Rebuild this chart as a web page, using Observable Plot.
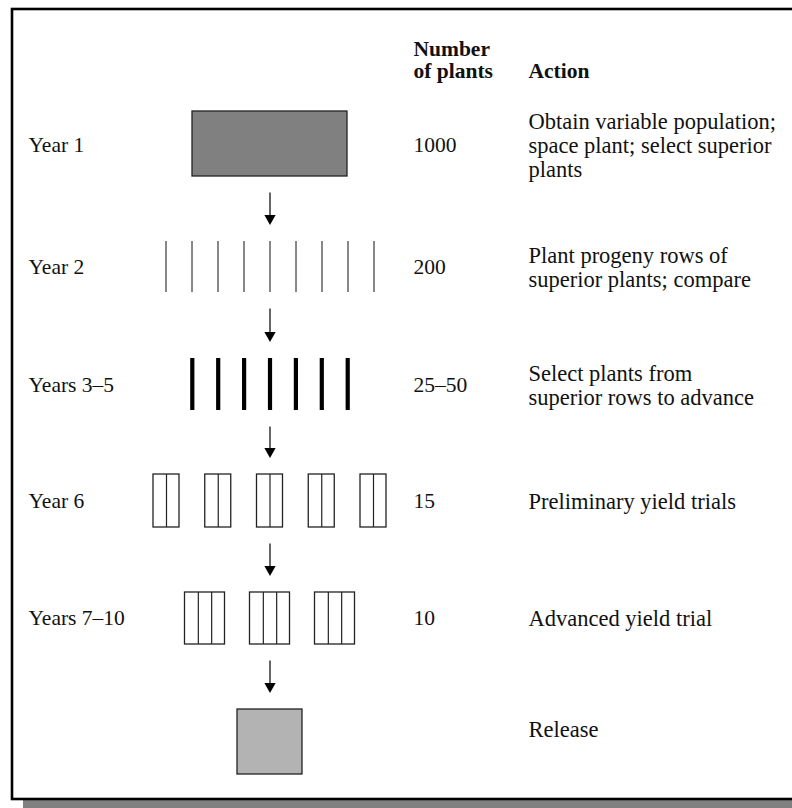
<!DOCTYPE html>
<html>
<head>
<meta charset="utf-8">
<script src="https://cdn.jsdelivr.net/npm/d3@7"></script>
<script src="https://cdn.jsdelivr.net/npm/@observablehq/plot@0.6"></script>
<style>
  html, body { margin: 0; padding: 0; background: #fff; }
  svg { display: block; }
</style>
</head>
<body>
<div id="chart"></div>
<script>
// ---- data ----
const stageLabels = ["Year 1", "Year 2", "Years 3–5", "Year 6", "Years 7–10", ""];
const plantNumbers = ["1000", "200", "25–50", "15", "10", ""];
const actions = [
  "Obtain variable population;\nspace plant; select superior\nplants",
  "Plant progeny rows of\nsuperior plants; compare",
  "Select plants from\nsuperior rows to advance",
  "Preliminary yield trials",
  "Advanced yield trial",
  "Release"
];
const plotCounts = [1, 9, 7, 5, 3, 1];      // plots drawn per stage
const rowsPerPlot = [0, 1, 1, 2, 3, 0];     // 0 = solid block, 1 = single row, n = n-row plot
const headerNumberLines = ["Number", "of plants"];
const headerAction = "Action";

// ---- layout (geometry & styles) ----
const W = 792, H = 808;
const layout = {
  cx: 269.5,
  shapeCenterY: [143.5, 266.5, 384, 500.5, 618, 741.5],
  shapeHeight: [65, 51, 52, 53, 52, 65],
  plotPitch: [0, 26, 25.9, 51.75, 65, 0],
  plotWidth: [155, 0, 0, 26, 40, 65],
  rowStroke: [0, 1, 4.2, 0, 0, 0],
  blockFill: ["#808080", "none", "none", "white", "white", "#b3b3b3"],
  textY: [145, 267, 385, 501, 618, 729],
  labelX: 28, numberX: 413, actionX: 528,
  headerBaselines: [55, 77],
  arrowGap: 16.5
};
const font = "'Liberation Serif', 'Times New Roman', serif";
const fs = 21.5;
const fsAction = 22.5;

// build geometry from data
const blocks = [], dividers = [], thinRows = [], thickRows = [];
stageLabels.forEach((_, i) => {
  const n = plotCounts[i], rows = rowsPerPlot[i];
  const cy = layout.shapeCenterY[i], h = layout.shapeHeight[i];
  const y1 = cy - h / 2, y2 = cy + h / 2;
  for (let p = 0; p < n; p++) {
    const pc = layout.cx + (p - (n - 1) / 2) * layout.plotPitch[i];
    if (rows === 1) {
      (layout.rowStroke[i] > 2 ? thickRows : thinRows).push({x: pc, y1, y2});
    } else {
      const w = layout.plotWidth[i];
      const x1 = pc - w / 2, x2 = pc + w / 2;
      blocks.push({x1, x2, y1, y2, fill: layout.blockFill[i]});
      for (let k = 1; k < rows; k++) dividers.push({x: x1 + k * w / rows, y1, y2});
    }
  }
});
const arrows = [];
for (let i = 0; i < stageLabels.length - 1; i++) {
  const top = layout.shapeCenterY[i] + layout.shapeHeight[i] / 2 + layout.arrowGap;
  const tip = layout.shapeCenterY[i + 1] - layout.shapeHeight[i + 1] / 2 - layout.arrowGap;
  arrows.push({x: layout.cx, y1: top, y2: tip - 8, head: tip - 5});
}
const downTriangle = {
  draw(ctx, size) {
    const r = Math.sqrt(size / Math.PI);
    ctx.moveTo(-r, -r * 0.9);
    ctx.lineTo(r, -r * 0.9);
    ctx.lineTo(0, r * 0.9);
    ctx.closePath();
  }
};

const rows = stageLabels.map((d, i) => ({label: d, num: plantNumbers[i], action: actions[i], y: layout.textY[i]}));
const headerRows = headerNumberLines.map((t, i) => ({t, y: layout.headerBaselines[i]}));

const chart = Plot.plot({
  width: W, height: H,
  margin: 0,
  x: {domain: [0, W], range: [0, W], axis: null},
  y: {domain: [0, H], range: [0, H], axis: null},
  style: {background: "white", fontFamily: font},
  marks: [
    // shadow & frame
    Plot.rect([0], {x1: 23, x2: W + 20, y1: 800, y2: H + 10, fill: "#808080"}),
    Plot.rect([0], {x1: 12, x2: W + 20, y1: 9, y2: 799, fill: "white", stroke: "#000", strokeWidth: 2.6}),
    // plots
    Plot.rect(blocks, {x1: "x1", x2: "x2", y1: "y1", y2: "y2", fill: d => d.fill, stroke: "#222", strokeWidth: 1.3}),
    Plot.ruleX(dividers, {x: "x", y1: "y1", y2: "y2", stroke: "#222", strokeWidth: 1.2}),
    Plot.ruleX(thinRows, {x: "x", y1: "y1", y2: "y2", stroke: "#111", strokeWidth: 1}),
    Plot.ruleX(thickRows, {x: "x", y1: "y1", y2: "y2", stroke: "#000", strokeWidth: 4.2}),
    // arrows
    Plot.ruleX(arrows, {x: "x", y1: "y1", y2: "y2", stroke: "#000", strokeWidth: 1.2}),
    Plot.dot(arrows, {x: "x", y: "head", r: 5.6, symbol: downTriangle, fill: "#000", stroke: "none"}),
    // headers
    Plot.text(headerRows, {x: layout.numberX, y: "y", text: "t", textAnchor: "start", lineAnchor: "bottom", fontSize: fs, fontWeight: "bold", fill: "#111", fontFamily: font}),
    Plot.text([headerAction], {x: layout.actionX, y: layout.headerBaselines[1], text: d => d, textAnchor: "start", lineAnchor: "bottom", fontSize: fs, fontWeight: "bold", fill: "#111", fontFamily: font}),
    // row texts
    Plot.text(rows, {x: layout.labelX, y: "y", text: "label", textAnchor: "start", lineAnchor: "middle", fontSize: fs, fill: "#111", fontFamily: font}),
    Plot.text(rows, {x: layout.numberX, y: "y", text: "num", textAnchor: "start", lineAnchor: "middle", fontSize: fs, fill: "#111", fontFamily: font}),
    Plot.text(rows, {x: layout.actionX, y: "y", text: "action", textAnchor: "start", lineAnchor: "middle", lineHeight: 24 / fsAction, fontSize: fsAction, fill: "#111", fontFamily: font})
  ]
});
document.getElementById("chart").appendChild(chart);
</script>
</body>
</html>
